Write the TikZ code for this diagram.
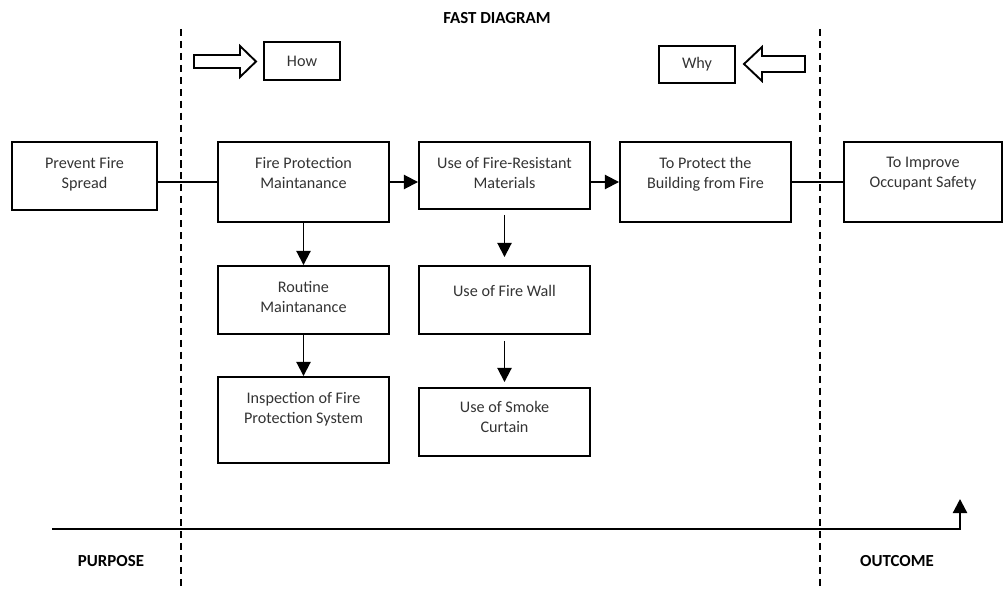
\documentclass[tikz,border=0pt]{standalone}
\usepackage{fontspec}
\setmainfont{Carlito}
\usetikzlibrary{arrows.meta}

\begin{document}
\begin{tikzpicture}[x=0.025cm, y=-0.025cm,
    fbox/.style={draw, line width=1.35pt, inner sep=0pt},
    ftext/.style={anchor=north, inner sep=0pt, align=center, text=black!80,
      font=\fontsize{11.5}{14.2}\selectfont, yshift=-0.4cm},
    heading/.style={font=\bfseries\fontsize{12}{14}\selectfont},
    hint/.style={draw, line width=1.35pt, inner sep=0pt, text=black!80,
      font=\fontsize{11.5}{13}\selectfont, minimum width=1.9cm, minimum height=0.94cm},
    flow/.style={line width=1.35pt, -{Triangle[width=10pt,length=10pt]}},
    link/.style={line width=1.35pt},
    divider/.style={line width=1.2pt, dash pattern=on 5pt off 3.5pt}]
  \useasboundingbox (0,0) rectangle (1003,589);

  % Title
  \node[heading] (title) at (497,18) {FAST DIAGRAM};

  % Scope lines
  \coordinate (divLtop) at (181,29);
  \coordinate (divLbot) at (181,589);
  \coordinate (divRtop) at (820,29);
  \coordinate (divRbot) at (820,589);
  \draw[divider] (divLtop) -- (divLbot);
  \draw[divider] (divRtop) -- (divRbot);

  % How / Why
  \draw[link] (194,55) -- (240,55) -- (240,46) -- (256,61.5) -- (240,77) -- (240,68) -- (194,68) -- cycle;
  \node[hint] (how) at (302,61) {How};
  \draw[link] (805,56) -- (762,56) -- (762,47) -- (744,64) -- (762,81) -- (762,72) -- (805,72) -- cycle;
  \node[hint] (why) at (697,64.5) {Why};

  % Main path
  \node[fbox, minimum width=3.625cm, minimum height=1.7cm,
    label={[ftext]north:Prevent Fire\\Spread}] (prevent) at (84.5,176) {};
  \node[fbox, minimum width=4.275cm, minimum height=2cm,
    label={[ftext]north:Fire Protection\\Maintanance}] (fpm) at (303.5,182) {};
  \node[fbox, minimum width=4.275cm, minimum height=1.675cm,
    label={[ftext]north:Use of Fire-Resistant\\Materials}] (materials) at (504.5,175.5) {};
  \node[fbox, minimum width=4.275cm, minimum height=2cm,
    label={[ftext]north:To Protect the\\Building from Fire}] (protect) at (705.5,182) {};
  \node[fbox, minimum width=3.95cm, minimum height=2cm,
    label={[ftext]north:To Improve\\Occupant Safety}] (safety) at (923,182) {};

  % Sub functions
  \node[fbox, minimum width=4.275cm, minimum height=1.7cm,
    label={[ftext]north:Routine\\Maintanance}] (routine) at (303.5,300) {};
  \node[fbox, minimum width=4.275cm, minimum height=2.15cm,
    label={[ftext]north:Inspection of Fire\\Protection System}] (inspect) at (303.5,420) {};
  \node[fbox, minimum width=4.275cm, minimum height=1.7cm,
    label={[ftext, yshift=-0.1cm]north:Use of Fire Wall}] (firewall) at (504.5,300) {};
  \node[fbox, minimum width=4.275cm, minimum height=1.7cm,
    label={[ftext, yshift=0.05cm]north:Use of Smoke\\Curtain}] (smoke) at (504.5,422) {};

  % Connectors
  \draw[link] (fpm.west) -- (fpm.west -| prevent.east);
  \draw[flow] (fpm.east) -- (fpm.east -| materials.west);
  \draw[flow] (protect.west -| materials.east) -- (protect.west);
  \draw[link] (protect.east) -- (safety.west);
  \draw[flow] (fpm.south) -- (routine.north);
  \draw[flow] (routine.south) -- (inspect.north);
  \draw[flow, shorten <=0.125cm, shorten >=0.2cm] (materials.south) -- (firewall.north);
  \draw[flow, shorten <=0.15cm, shorten >=0.125cm] (firewall.south) -- (smoke.north);

  % Time line
  \coordinate (axisL) at (52,529);
  \coordinate (axisR) at (960,529);
  \coordinate (axisT) at (960,499);
  \draw[line width=1.6pt, -{Triangle[width=10pt,length=10pt]}] (axisL) -- (axisR) -- (axisT);
  \node[heading] (purpose) at (111,561) {PURPOSE};
  \node[heading] (outcome) at (897,561) {OUTCOME};
\end{tikzpicture}
\end{document}
